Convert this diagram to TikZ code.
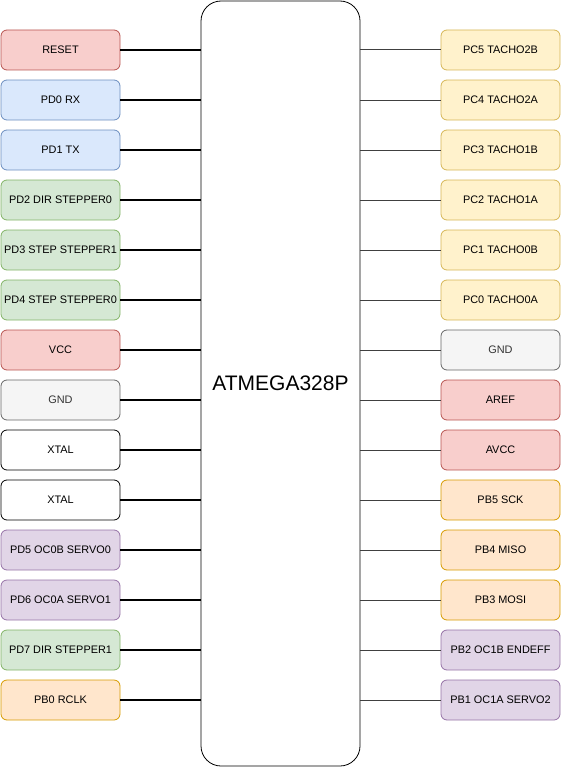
\documentclass[tikz,border=0pt]{standalone}
\usepackage{fontspec}
\setmainfont{Liberation Sans}
\definecolor{redF}{HTML}{F8CECC}\definecolor{redD}{HTML}{B85450}
\definecolor{bluF}{HTML}{DAE8FC}\definecolor{bluD}{HTML}{6C8EBF}
\definecolor{grnF}{HTML}{D5E8D4}\definecolor{grnD}{HTML}{82B366}
\definecolor{gryF}{HTML}{F5F5F5}\definecolor{gryD}{HTML}{666666}
\definecolor{gryT}{HTML}{333333}
\definecolor{purF}{HTML}{E1D5E7}\definecolor{purD}{HTML}{9673A6}
\definecolor{orgF}{HTML}{FFE6CC}\definecolor{orgD}{HTML}{D79B00}
\definecolor{ylwF}{HTML}{FFF2CC}\definecolor{ylwD}{HTML}{D6B656}
\begin{document}
\begin{tikzpicture}[x=1pt,y=-1pt,
  pin/.style={draw, rounded corners=6pt, minimum width=119pt, minimum height=40pt, inner sep=0pt, font=\fontsize{10.9pt}{12pt}\selectfont, line width=0.8pt},
  rd/.style={pin, fill=redF, draw=redD},
  bl/.style={pin, fill=bluF, draw=bluD},
  gn/.style={pin, fill=grnF, draw=grnD},
  gy/.style={pin, fill=gryF, draw=gryD, text=gryT},
  wh/.style={pin, fill=white, draw=black},
  pu/.style={pin, fill=purF, draw=purD},
  og/.style={pin, fill=orgF, draw=orgD},
  yw/.style={pin, fill=ylwF, draw=ylwD},
  lw/.style={draw=black, line width=1.3pt},
  rw/.style={draw=black!75, line width=1pt}]
\useasboundingbox (0,0) rectangle (562,768);
\node[draw, rounded corners=20pt, minimum width=159pt, minimum height=765pt, inner sep=0pt, line width=0.8pt, font=\fontsize{21pt}{24pt}\selectfont] (mcu) at (280.5,383.5) {ATMEGA328P};
\foreach \n/\s/\t [count=\i from 0] in {
  l0/rd/RESET, l1/bl/PD0 RX, l2/bl/PD1 TX, l3/gn/PD2 DIR STEPPER0,
  l4/gn/PD3 STEP STEPPER1, l5/gn/PD4 STEP STEPPER0, l6/rd/VCC, l7/gy/GND,
  l8/wh/XTAL, l9/wh/XTAL, l10/pu/PD5 OC0B SERVO0, l11/pu/PD6 OC0A SERVO1,
  l12/gn/PD7 DIR STEPPER1, l13/og/PB0 RCLK}{
  \node[\s] (\n) at (60.5,50+50*\i) {\t};
  \draw[lw] (\n.east) -- (\n.east -| mcu.west);
}
\foreach \n/\s/\t [count=\i from 0] in {
  r0/yw/PC5 TACHO2B, r1/yw/PC4 TACHO2A, r2/yw/PC3 TACHO1B, r3/yw/PC2 TACHO1A,
  r4/yw/PC1 TACHO0B, r5/yw/PC0 TACHO0A, r6/gy/GND, r7/rd/AREF,
  r8/rd/AVCC, r9/og/PB5 SCK, r10/og/PB4 MISO, r11/og/PB3 MOSI,
  r12/pu/PB2 OC1B ENDEFF, r13/pu/PB1 OC1A SERVO2}{
  \node[\s] (\n) at (500.5,50+50*\i) {\t};
  \draw[rw] (\n.west) -- (\n.west -| mcu.east);
}
\end{tikzpicture}
\end{document}
